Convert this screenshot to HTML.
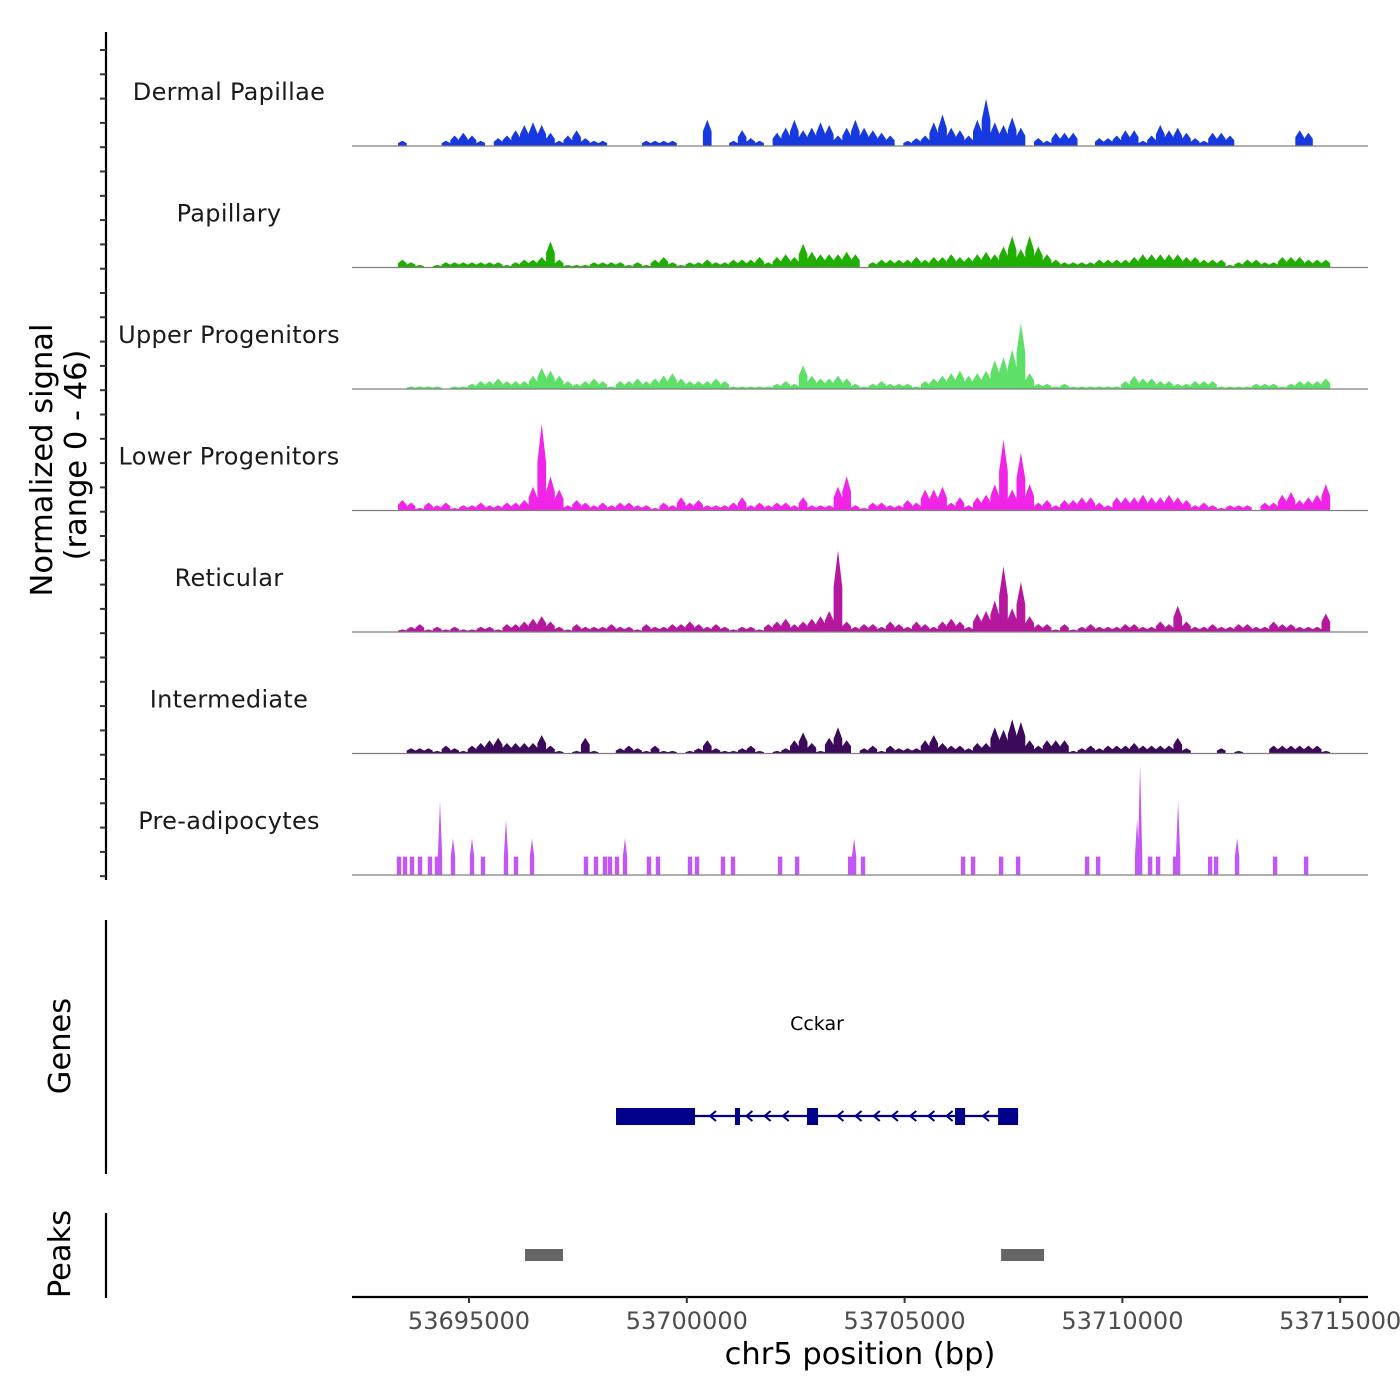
<!DOCTYPE html>
<html><head><meta charset="utf-8"><style>
html,body{margin:0;padding:0;background:#fff;}
svg{display:block;font-family:"DejaVu Sans","Liberation Sans",sans-serif;}
</style></head><body>
<svg id="chart" width="1400" height="1400" viewBox="0 0 1400 1400" xmlns="http://www.w3.org/2000/svg">
<g id="tracks"></g>
<g id="yaxis"></g>
<text transform="translate(52,460) rotate(-90)" text-anchor="middle" font-size="30.5" fill="#000">Normalized signal</text>
<text transform="translate(86,455) rotate(-90)" text-anchor="middle" font-size="30.5" fill="#000">(range 0 - 46)</text>
<line x1="106" y1="920" x2="106" y2="1174" stroke="#000" stroke-width="2.2"/>
<text transform="translate(70,1046) rotate(-90)" text-anchor="middle" font-size="30.5" fill="#000">Genes</text>
<g id="genes"></g>
<line x1="106" y1="1213" x2="106" y2="1298" stroke="#000" stroke-width="2.2"/>
<text transform="translate(70,1254) rotate(-90)" text-anchor="middle" font-size="30.5" fill="#000">Peaks</text>
<g id="peaks"></g>
<g id="xaxis"></g>
<text x="860" y="1364" text-anchor="middle" font-size="30.5" fill="#000">chr5 position (bp)</text>
</svg>
<script>
const trackNames = ["Dermal Papillae","Papillary","Upper Progenitors","Lower Progenitors","Reticular","Intermediate","Pre-adipocytes"];
const trackColors = ["#1639e0","#1faf00","#5ddf68","#f025e8","#b5179e","#3b0a5a","#c257f5"];
const binStart = 53693370;
const binSize = 200;
const dermalPapillae = [2,0,0,0,0,2,4,5,4,2,0,3,4,6,8,9,8,5,2,4,6,3,2,2,0,0,0,0,2,2,2,2,0,0,0,10,0,0,2,6,3,2,0,5,7,10,6,7,9,8,4,7,10,7,6,5,4,0,2,3,4,9,12,7,6,4,10,18,9,8,11,7,0,3,2,5,5,5,0,0,3,3,4,6,6,2,4,8,6,7,5,3,2,5,5,4,0,0,0,0,0,0,0,6,5,0,0];
const papillary = [3,2,1,0,1,2,2,2,2,2,2,2,1,2,3,3,4,10,3,1,1,1,2,2,2,2,1,2,1,3,4,2,1,2,2,3,2,2,3,3,3,4,2,4,5,4,9,6,5,5,5,6,5,0,2,3,3,3,3,4,3,4,4,5,4,4,5,6,5,8,12,7,12,8,5,3,2,2,2,2,3,3,3,3,4,5,5,5,5,5,4,4,3,3,3,1,2,3,3,2,2,4,4,4,3,3,3];
const upperProgenitors = [0,1,1,1,1,0,1,1,2,3,3,4,3,3,3,5,8,7,5,3,2,3,4,3,1,3,3,4,3,4,5,6,4,3,3,3,4,3,1,1,1,1,1,2,3,2,9,5,4,4,5,4,2,1,2,3,2,2,2,1,3,4,5,6,7,5,6,7,11,12,15,25,6,2,2,1,2,1,1,1,1,1,1,3,5,4,4,3,3,2,2,3,3,3,1,1,1,1,2,2,2,1,2,3,3,3,4];
const lowerProgenitors = [4,3,1,3,2,3,1,2,2,3,2,2,3,3,4,9,33,13,8,2,4,3,2,3,2,3,3,2,2,1,3,2,5,3,4,2,2,2,3,5,2,3,2,3,3,2,5,2,2,2,9,13,2,1,3,3,2,2,4,3,8,8,9,3,5,2,5,6,10,27,8,22,10,3,4,2,4,4,5,5,3,2,5,5,5,6,5,5,6,5,4,2,3,2,1,2,2,2,0,3,3,6,7,4,5,6,10];
const reticular = [1,2,3,1,2,1,2,1,1,2,2,1,3,3,4,5,6,4,2,1,3,2,2,2,3,2,2,1,3,2,2,3,3,4,3,2,3,2,1,2,2,1,3,4,5,3,4,5,6,8,31,4,2,3,3,2,4,3,2,4,3,2,4,5,4,2,7,8,12,25,9,19,6,3,3,1,3,1,2,3,2,2,2,3,3,2,2,4,3,10,4,2,2,3,2,2,3,3,2,2,4,3,3,2,2,2,7];
const intermediate = [0,2,2,2,1,3,2,1,3,4,5,6,4,4,4,4,7,3,1,0,1,6,1,0,0,2,3,2,1,3,1,1,0,1,2,5,2,1,1,2,3,1,0,1,2,5,8,4,1,6,10,5,0,2,3,1,3,2,2,2,5,7,4,3,3,2,4,4,10,9,13,12,5,3,5,5,5,1,2,3,2,3,3,3,4,3,3,3,3,6,2,0,0,0,2,0,1,0,0,0,3,3,3,3,3,3,1];
const preadPositions = [53693393,53693531,53693691,53693875,53694105,53694265,53694334,53694633,53695069,53695321,53695850,53696079,53696446,53697686,53697916,53698123,53698237,53698398,53698582,53699133,53699339,53700074,53700235,53700832,53701061,53702141,53702531,53703748,53703840,53704046,53706342,53706572,53707215,53707605,53709190,53709442,53710337,53710406,53710636,53710820,53711210,53711279,53712014,53712152,53712634,53713506,53714218];
const preadValues = [7,7,7,7,7,7,28,14,14,7,21,7,14,7,7,7,7,7,14,7,7,7,7,7,7,7,7,7,14,7,7,7,7,7,7,7,21,42,7,7,7,28,7,7,14,7,7];
const xTicks = [53695000,53700000,53705000,53710000,53715000];
const geneName = "Cckar";
const geneStart = 53698375, geneEnd = 53707605;
const exonStarts = [53698375,53701107,53702760,53706158,53707146];
const exonEnds = [53700189,53701222,53703013,53706388,53707605];
const peakStarts = [53696286,53707215];
const peakEnds = [53697158,53708202];

const NS="http://www.w3.org/2000/svg";
function xScale(bp){return 469 + (bp-53695000)*217.8/5000;}
const trackH = 121.5, firstBase = 146, yMax = 46;
function yScale(v,base){return base - v*(121)/yMax;}
function mk(tag,attrs,parent){const e=document.createElementNS(NS,tag);for(const k in attrs)e.setAttribute(k,attrs[k]);parent.appendChild(e);return e;}

const tracks=document.getElementById('tracks');
const series=[dermalPapillae,papillary,upperProgenitors,lowerProgenitors,reticular,intermediate];
for(let t=0;t<7;t++){
  const base=firstBase+t*trackH;
  const lbl=mk('text',{x:229,y:base-46,'text-anchor':'middle','font-size':'24','letter-spacing':'0.3',fill:'#1a1a1a'},tracks);
  lbl.textContent=trackNames[t];
  
  
  let d='';
  if(t<6){
    const vals=series[t];
    d='M'+xScale(binStart).toFixed(1)+','+base;
    for(let i=0;i<vals.length;i++){
      const x0=xScale(binStart+i*binSize), x1=xScale(binStart+(i+1)*binSize), xm=(x0+x1)/2;
      const y=yScale(vals[i],base);
      d+=' L'+x0.toFixed(1)+','+yScale(vals[i]*0.55,base).toFixed(1)+' L'+xm.toFixed(1)+','+y.toFixed(1)+' L'+x1.toFixed(1)+','+yScale(vals[i]*0.55,base).toFixed(1);
    }
    d+=' L'+xScale(binStart+vals.length*binSize).toFixed(1)+','+base+' Z';
  } else {
    for(let i=0;i<preadPositions.length;i++){
      const xc=xScale(preadPositions[i]);
      const y=yScale(preadValues[i],base);
      d+='M'+(xc-2.2).toFixed(1)+','+base+' L'+(xc-2.2).toFixed(1)+','+yScale(7,base).toFixed(1)+' L'+xc.toFixed(1)+','+y.toFixed(1)+' L'+(xc+2.2).toFixed(1)+','+yScale(7,base).toFixed(1)+' L'+(xc+2.2).toFixed(1)+','+base+' Z ';
    }
  }
  const area=mk('path',{d:d,fill:trackColors[t]},tracks);
  
  
  const bl=mk('line',{x1:352,x2:1368,y1:base,y2:base,stroke:'#7f7f7f','stroke-width':1.2},tracks);
  
  
}

const ya=document.getElementById('yaxis');
const yl=mk('line',{x1:106,x2:106,y1:32,y2:880,stroke:'#000','stroke-width':2.2},ya);


for(let k=0;k<35;k++){
  const y=50+k*24.3;
  const tk=mk('line',{x1:100,x2:106,y1:y,y2:y,stroke:'#333','stroke-width':2},ya);
  
  
}

const g=document.getElementById('genes');
const gl=mk('text',{x:817,y:1030,'text-anchor':'middle','font-size':'19',fill:'#000'},g);
gl.textContent=geneName;


const gline=mk('line',{x1:xScale(geneStart),x2:xScale(geneEnd),y1:1116,y2:1116,stroke:'#00008b','stroke-width':2.2},g);


for(let x=xScale(geneStart)+96;x<xScale(geneEnd);x+=18.2){
  let inExon=false;
  for(let i=0;i<exonStarts.length;i++){if(x>xScale(exonStarts[i])-6&&x<xScale(exonEnds[i])+6)inExon=true;}
  if(inExon)continue;
  const ar=mk('path',{d:'M'+(x+4)+',1111 L'+(x-2)+',1116 L'+(x+4)+',1121',fill:'none',stroke:'#00008b','stroke-width':2},g);
  
  
}
for(let i=0;i<exonStarts.length;i++){
  const ex=mk('rect',{x:xScale(exonStarts[i]),y:1108,width:Math.max(4,xScale(exonEnds[i])-xScale(exonStarts[i])),height:17,fill:'#00008b'},g);
  
  
}

const p=document.getElementById('peaks');
for(let i=0;i<peakStarts.length;i++){
  const r=mk('rect',{x:xScale(peakStarts[i]),y:1249,width:xScale(peakEnds[i])-xScale(peakStarts[i]),height:12,fill:'#666'},p);
  
  
}

const xa=document.getElementById('xaxis');
const xl=mk('line',{x1:352,x2:1368,y1:1297,y2:1297,stroke:'#000','stroke-width':2.2},xa);


for(const t of xTicks){
  const x=xScale(t);
  const tk=mk('line',{x1:x,x2:x,y1:1297,y2:1303,stroke:'#333','stroke-width':2},xa);
  
  
  const tl=mk('text',{x:x,y:1329,'text-anchor':'middle','font-size':'24',fill:'#4d4d4d'},xa);
  tl.textContent=String(t);
  
  
}
</script>
</body></html>
